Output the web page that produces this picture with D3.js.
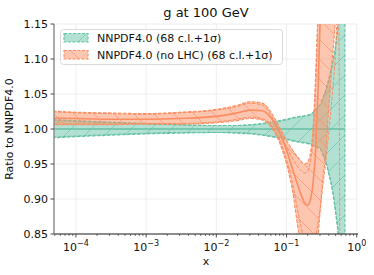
<!DOCTYPE html>
<html>
<head>
<meta charset="utf-8">
<script src="https://cdn.jsdelivr.net/npm/d3@7"></script>
<style>
  body { margin: 0; background: #fff; }
  text { font-family: "DejaVu Sans", sans-serif; }
</style>
</head>
<body>
<div id="chart"></div>
<script>
// x grid and ratios
const xs = [4e-5, 1e-4, 3e-4, 1e-3, 3e-3, 1e-2, 0.02, 0.03, 0.045, 0.06, 0.08, 0.1, 0.12, 0.15, 0.18,
            0.2, 0.22, 0.24, 0.26, 0.28, 0.3, 0.33, 0.36, 0.4, 0.45, 0.5, 0.55, 0.6, 0.65, 0.68];

const greenMid = [1, 1, 1, 1, 1, 1, 1, 1, 1, 1, 1, 1, 1, 1, 1, 1, 1, 1, 1, 1, 1, 1, 1, 1, 1, 1, 1, 1, 1, 1];
const greenHi = [1.014, 1.012, 1.010, 1.008, 1.006, 1.005, 1.005, 1.006, 1.008, 1.010, 1.012, 1.014, 1.016, 1.018, 1.019,
                 1.020, 1.021, 1.024, 1.028, 1.032, 1.035, 1.045, 1.055, 1.072, 1.095, 1.120, 1.160, 1.220, 1.300, 1.350];
const greenLo = [0.987, 0.989, 0.991, 0.993, 0.994, 0.995, 0.994, 0.993, 0.991, 0.989, 0.987, 0.985, 0.983, 0.981, 0.980,
                 0.979, 0.978, 0.976, 0.974, 0.973, 0.972, 0.962, 0.953, 0.935, 0.912, 0.880, 0.845, 0.800, 0.740, 0.700];
const greenSigHi = [1.013, 1.011, 1.009, 1.007, 1.006, 1.005, 1.005, 1.006, 1.007, 1.009, 1.011, 1.013, 1.015, 1.017, 1.018,
                    1.019, 1.020, 1.023, 1.027, 1.031, 1.034, 1.043, 1.053, 1.070, 1.092, 1.117, 1.155, 1.215, 1.290, 1.340];
const greenSigLo = [0.988, 0.990, 0.992, 0.994, 0.995, 0.995, 0.995, 0.994, 0.992, 0.990, 0.988, 0.986, 0.984, 0.982, 0.981,
                    0.980, 0.979, 0.977, 0.975, 0.974, 0.973, 0.964, 0.955, 0.938, 0.915, 0.884, 0.850, 0.806, 0.748, 0.708];

const orangeMid = [1.016, 1.015, 1.014, 1.014, 1.015, 1.018, 1.023, 1.027, 1.026, 1.016, 0.994, 0.970, 0.945, 0.915, 0.895,
                   0.891, 0.900, 0.925, 0.970, 1.050, 1.150, 1.300, 1.380, 1.450, 1.500, 1.550, 1.600, 1.650, 1.700, 1.750];
const orangeHi = [1.026, 1.024, 1.023, 1.022, 1.024, 1.028, 1.034, 1.039, 1.037, 1.024, 1.002, 0.984, 0.971, 0.958, 0.950,
                  0.953, 0.967, 1.005, 1.080, 1.170, 1.300, 1.400, 1.450, 1.500, 1.550, 1.600, 1.650, 1.700, 1.750, 1.800];
const orangeLo = [1.006, 1.006, 1.006, 1.007, 1.007, 1.009, 1.012, 1.015, 1.013, 1.003, 0.980, 0.950, 0.915, 0.850, 0.810,
                  0.790, 0.790, 0.800, 0.820, 0.845, 0.880, 0.930, 0.962, 1.030, 1.100, 1.160, 1.250, 1.350, 1.450, 1.500];
const orangeSigHi = [1.025, 1.023, 1.022, 1.021, 1.023, 1.027, 1.032, 1.037, 1.034, 1.020, 0.996, 0.975, 0.959, 0.944, 0.937,
                     0.940, 0.955, 0.990, 1.060, 1.160, 1.300, 1.400, 1.450, 1.500, 1.550, 1.600, 1.650, 1.700, 1.750, 1.800];
const orangeSigLo = [1.007, 1.007, 1.007, 1.008, 1.008, 1.010, 1.014, 1.017, 1.015, 1.006, 0.984, 0.956, 0.925, 0.875, 0.840,
                     0.825, 0.825, 0.830, 0.845, 0.865, 0.885, 0.920, 0.950, 0.995, 1.050, 1.110, 1.200, 0.400, 0.300, 0.200];

const yTicks = [0.85, 0.90, 0.95, 1.00, 1.05, 1.10, 1.15];
const xTicks = [1e-4, 1e-3, 1e-2, 1e-1, 1];
const xTickExp = ['\u22124', '\u22123', '\u22122', '\u22121', '0'];
const legendLabels = ['NNPDF4.0 (68 c.l.+1\u03c3)', 'NNPDF4.0 (no LHC) (68 c.l.+1\u03c3)'];

const W = 374, H = 275;
const margin = {top: 24, left: 54, right: 16, bottom: 41};
const green = '#66c2a5', orange = '#fc8d62';

const svg = d3.select('#chart').append('svg')
    .attr('width', W).attr('height', H);

const x = d3.scaleLog().domain([4.87e-5, 1.043]).range([margin.left, W - margin.right]);
const y = d3.scaleLinear().domain([0.85, 1.15]).range([H - margin.bottom, margin.top]);

// hatch patterns
const defs = svg.append('defs');
function hatch(id, color, back) {
    const p = defs.append('pattern').attr('id', id)
        .attr('patternUnits', 'userSpaceOnUse').attr('width', 20).attr('height', 20);
    const segs = back ? [[0, 0, 20, 20], [-10, 10, 10, 30], [10, -10, 30, 10]]
                      : [[0, 20, 20, 0], [-10, 10, 10, -10], [10, 30, 30, 10]];
    segs.forEach(s => p.append('line')
        .attr('x1', s[0]).attr('y1', s[1]).attr('x2', s[2]).attr('y2', s[3])
        .attr('stroke', color).attr('stroke-width', 0.7).attr('stroke-opacity', 0.9));
}
hatch('hg', green, false);
hatch('ho', orange, true);

defs.append('clipPath').attr('id', 'plot').append('rect')
    .attr('x', margin.left).attr('y', margin.top)
    .attr('width', W - margin.right - margin.left).attr('height', H - margin.bottom - margin.top);

// grid
const grid = svg.append('g').attr('stroke', '#ebebeb').attr('stroke-width', 0.8);
yTicks.forEach(t => grid.append('line')
    .attr('x1', margin.left).attr('x2', W - margin.right).attr('y1', y(t)).attr('y2', y(t)));
xTicks.forEach(t => grid.append('line')
    .attr('x1', x(t)).attr('x2', x(t)).attr('y1', margin.top).attr('y2', H - margin.bottom));

const plot = svg.append('g').attr('clip-path', 'url(#plot)');

function band(color, pat, mid, lo, hi, sLo, sHi) {
    const pts = xs.map((d, i) => ({x: d, m: mid[i], lo: lo[i], hi: hi[i], sl: sLo[i], sh: sHi[i]}));
    const area = d3.area().x(d => x(d.x)).y0(d => y(d.lo)).y1(d => y(d.hi)).curve(d3.curveMonotoneX);
    const line = k => d3.line().x(d => x(d.x)).y(d => y(d[k])).curve(d3.curveMonotoneX);
    plot.append('path').attr('d', area(pts)).attr('fill', color).attr('fill-opacity', 0.5)
        .attr('stroke', color).attr('stroke-width', 1.1).attr('stroke-dasharray', '3.5,1.5');
    plot.append('path').attr('d', area(pts)).attr('fill', `url(#${pat})`);
    ['sl', 'sh'].forEach(k => plot.append('path').attr('d', line(k)(pts))
        .attr('fill', 'none').attr('stroke', color).attr('stroke-width', 1).attr('stroke-dasharray', '3.5,1.5'));
    plot.append('path').attr('d', line('m')(pts))
        .attr('fill', 'none').attr('stroke', color).attr('stroke-width', 1.6);
}
band(green, 'hg', greenMid, greenLo, greenHi, greenSigLo, greenSigHi);
band(orange, 'ho', orangeMid, orangeLo, orangeHi, orangeSigLo, orangeSigHi);

// axes
const xAxis = svg.append('g').attr('transform', `translate(0,${H - margin.bottom})`);
xAxis.append('line').attr('x1', margin.left).attr('x2', W - margin.right)
    .attr('stroke', '#222').attr('stroke-width', 1);
const minor = [];
for (let e = -5; e <= 0; e++) for (let m = 2; m <= 9; m++) {
    const v = m * Math.pow(10, e);
    if (v >= x.domain()[0] && v <= x.domain()[1]) minor.push(v);
}
minor.forEach(v => xAxis.append('line').attr('x1', x(v)).attr('x2', x(v)).attr('y1', 0).attr('y2', 2)
    .attr('stroke', '#222').attr('stroke-width', 0.6));
xTicks.forEach((t, i) => {
    xAxis.append('line').attr('x1', x(t)).attr('x2', x(t)).attr('y1', 0).attr('y2', 3.5)
        .attr('stroke', '#222').attr('stroke-width', 0.8);
    const tx = xAxis.append('text').attr('x', x(t)).attr('y', 17).attr('text-anchor', 'middle')
        .attr('font-size', 11).attr('fill', '#111');
    tx.append('tspan').text('10');
    tx.append('tspan').attr('dy', -5).attr('font-size', 8).text(xTickExp[i]);
});

const yAxis = svg.append('g');
yAxis.append('line').attr('x1', margin.left).attr('x2', margin.left)
    .attr('y1', margin.top).attr('y2', H - margin.bottom).attr('stroke', '#888').attr('stroke-width', 1.4);
yTicks.forEach(t => {
    yAxis.append('line').attr('x1', margin.left - 3.5).attr('x2', margin.left).attr('y1', y(t)).attr('y2', y(t))
        .attr('stroke', '#222').attr('stroke-width', 0.8);
    yAxis.append('text').attr('x', margin.left - 6).attr('y', y(t) + 4).attr('text-anchor', 'end')
        .attr('font-size', 11).attr('fill', '#111').text(d3.format('.2f')(t));
});

// titles
svg.append('text').attr('x', 206).attr('y', 17).attr('text-anchor', 'middle')
    .attr('font-size', 13).attr('fill', '#111').text('g at 100 GeV');
svg.append('text').attr('x', 206).attr('y', 265).attr('text-anchor', 'middle')
    .attr('font-size', 11).attr('fill', '#111').text('x');
svg.append('text').attr('transform', `translate(13,${(margin.top + H - margin.bottom) / 2}) rotate(-90)`)
    .attr('text-anchor', 'middle').attr('font-size', 11).attr('fill', '#111').text('Ratio to NNPDF4.0');

// legend
const lg = svg.append('g');
lg.append('rect').attr('x', 60.5).attr('y', 29.5).attr('width', 222).attr('height', 35).attr('rx', 3)
    .attr('fill', '#fff').attr('fill-opacity', 0.8).attr('stroke', '#d0d0d0').attr('stroke-width', 0.8);
[[green, 'hg'], [orange, 'ho']].forEach((c, i) => {
    const yy = 33.5 + i * 17;
    lg.append('rect').attr('x', 64).attr('y', yy).attr('width', 24).attr('height', 8.5)
        .attr('fill', c[0]).attr('fill-opacity', 0.5)
        .attr('stroke', c[0]).attr('stroke-width', 1.1).attr('stroke-dasharray', '3,1.5');
    lg.append('rect').attr('x', 64).attr('y', yy).attr('width', 24).attr('height', 8.5)
        .attr('fill', `url(#${c[1]})`);
    lg.append('text').attr('x', 97).attr('y', yy + 8.5).attr('font-size', 11).attr('fill', '#111')
        .text(legendLabels[i]);
});
</script>
</body>
</html>
